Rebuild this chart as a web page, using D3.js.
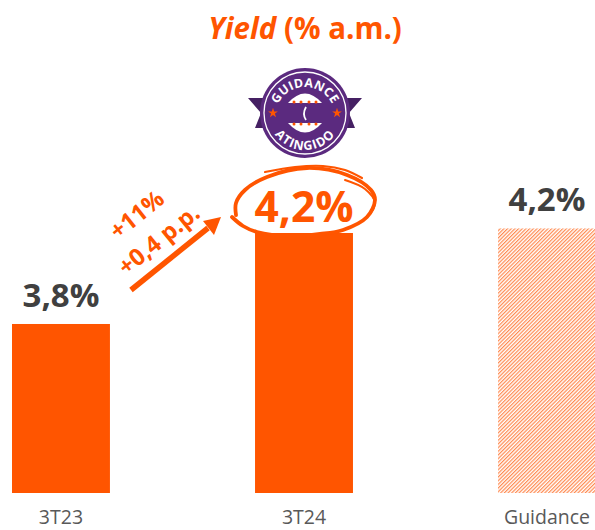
<!DOCTYPE html>
<html>
<head>
<meta charset="utf-8">
<script src="https://cdn.jsdelivr.net/npm/d3@7"></script>
<style>
  html, body { margin: 0; padding: 0; background: #fff; }
  text { font-family: "Open Sans", sans-serif; }
</style>
</head>
<body>
<div id="chart"></div>
<script>
// 数据
const categories = ["3T23", "3T24", "Guidance"];
const barValues = [3.8, 4.2, 4.22];
const valueLabels = ["3,8%", "4,2%", "4,2%"];
const growthLabels = ["+11%", "+0,4 p.p."];

const orange = "#ff5500";
const purple = "#5b2a7f";
const darkPurple = "#452063";

const width = 595, height = 530;
const baseline = 493;

const svg = d3.select("#chart").append("svg")
    .attr("width", width)
    .attr("height", height)
    .style("display", "block");

const defs = svg.append("defs");

// 斜线填充
const hatch = defs.append("pattern")
    .attr("id", "hatch")
    .attr("patternUnits", "userSpaceOnUse")
    .attr("width", 2.6)
    .attr("height", 2.6)
    .attr("patternTransform", "rotate(45)");
hatch.append("rect").attr("width", 2.6).attr("height", 2.6).attr("fill", "#fff");
hatch.append("rect").attr("width", 1.2).attr("height", 2.6).attr("fill", "#ff8a50");

const x = d3.scaleBand()
    .domain(categories)
    .range([12, 596])
    .paddingInner(0.597)
    .paddingOuter(0);

// 纵轴被截断，原图没有画轴
const y = d3.scaleLinear()
    .domain([3.057, 4.2])
    .range([baseline, 233]);

// 标题
const title = svg.append("text")
    .attr("x", 305)
    .attr("y", 39)
    .attr("text-anchor", "middle")
    .attr("font-size", 29.5)
    .attr("font-weight", 700)
    .attr("fill", orange);
title.append("tspan").attr("font-style", "italic").text("Yield");
title.append("tspan").text(" (% a.m.)");

// 柱子
svg.selectAll(".bar")
    .data(categories)
    .enter()
    .append("rect")
    .attr("class", "bar")
    .attr("x", d => x(d))
    .attr("y", (d, i) => y(barValues[i]))
    .attr("width", x.bandwidth())
    .attr("height", (d, i) => baseline - y(barValues[i]))
    .attr("fill", (d, i) => i === 2 ? "url(#hatch)" : orange);

// 数值标签
svg.selectAll(".value")
    .data(categories)
    .enter()
    .append("text")
    .attr("class", "value")
    .attr("x", d => x(d) + x.bandwidth() / 2)
    .attr("y", (d, i) => i === 1 ? 222 : y(barValues[i]) - 17)
    .attr("text-anchor", "middle")
    .attr("font-size", (d, i) => i === 1 ? 42.5 : 33)
    .attr("font-weight", 700)
    .attr("fill", (d, i) => i === 1 ? orange : "#404040")
    .text((d, i) => valueLabels[i]);

// 类别标签
svg.selectAll(".tick-label")
    .data(categories)
    .enter()
    .append("text")
    .attr("class", "tick-label")
    .attr("x", d => x(d) + x.bandwidth() / 2)
    .attr("y", 524)
    .attr("text-anchor", "middle")
    .attr("font-size", 19.5)
    .attr("fill", "#595959")
    .text(d => d);

// 手绘圈
const handCircle = svg.append("g").attr("fill", "none").attr("stroke", orange).attr("stroke-linecap", "round");
const scribble = d3.line().curve(d3.curveCatmullRom.alpha(0.5));
handCircle.append("path")
    .attr("stroke-width", 3.8)
    .attr("d", scribble([[232, 217], [243, 226], [257, 232], [290, 236], [320, 234], [343, 230], [367, 217], [375, 200], [371, 190], [347, 175], [307, 168], [267, 177], [245, 190], [236, 203], [236, 215]]));
handCircle.append("path")
    .attr("stroke-width", 2.2)
    .attr("d", scribble([[265, 172], [295, 167], [323, 166], [345, 170], [362, 178]]));
handCircle.append("path")
    .attr("stroke-width", 2)
    .attr("d", scribble([[345, 180], [365, 189], [375, 203], [370, 214]]));

// 增长箭头
const arrow = svg.append("g");
arrow.append("line")
    .attr("x1", 131).attr("y1", 290)
    .attr("x2", 208).attr("y2", 228)
    .attr("stroke", orange)
    .attr("stroke-width", 5.5);
arrow.append("path")
    .attr("d", "M221,217 L203,221 L214,235 Z")
    .attr("fill", orange);

svg.selectAll(".growth")
    .data(growthLabels)
    .enter()
    .append("text")
    .attr("class", "growth")
    .attr("transform", (d, i) => i === 0 ? "translate(142,221) rotate(-39)" : "translate(164,246) rotate(-39)")
    .attr("text-anchor", "middle")
    .attr("font-size", 23.5)
    .attr("font-weight", 700)
    .attr("fill", orange)
    .text(d => d);

// 徽章
const badge = svg.append("g").attr("transform", "translate(305,113)");

badge.append("path")
    .attr("d", "M-57,-15 L-30,-15 L-30,15 L-50,15 L-44,0 Z")
    .attr("fill", darkPurple);
badge.append("path")
    .attr("d", "M57,-15 L30,-15 L30,15 L50,15 L44,0 Z")
    .attr("fill", darkPurple);

badge.append("circle").attr("r", 45).attr("fill", purple);
badge.append("circle").attr("r", 41).attr("fill", "none").attr("stroke", "#fff").attr("stroke-width", 1.3);

// 中间的白色弧形
badge.append("path")
    .attr("d", "M-17,-10 Q0,-29 17,-10 Z")
    .attr("fill", "#fff");
badge.append("path")
    .attr("d", "M-17,10 Q0,29 17,10 Z")
    .attr("fill", "#fff");
badge.selectAll(".dot")
    .data(d3.cross([-11, -4, 4, 11], [-11, 11]))
    .enter()
    .append("circle")
    .attr("class", "dot")
    .attr("cx", d => d[0])
    .attr("cy", d => d[1])
    .attr("r", 1.5)
    .attr("fill", orange);
badge.append("path")
    .attr("d", "M1,-6 Q-3,1 1,7")
    .attr("fill", "none")
    .attr("stroke", "#fff")
    .attr("stroke-width", 1.8);

const star = d3.symbol().type(d3.symbolStar).size(30);
badge.selectAll(".star")
    .data([-32, 32])
    .enter()
    .append("path")
    .attr("class", "star")
    .attr("transform", d => `translate(${d},0)`)
    .attr("d", star)
    .attr("fill", orange);

defs.append("path").attr("id", "arcTop").attr("d", "M-30,4 A30,30 0 0 1 30,4");
defs.append("path").attr("id", "arcBottom").attr("d", "M-37,0 A37,37 0 0 0 37,0");

badge.append("text")
    .attr("font-size", 12.5)
    .attr("font-weight", 700)
    .attr("letter-spacing", 0.3)
    .attr("fill", "#fff")
    .attr("text-anchor", "middle")
    .append("textPath")
    .attr("href", "#arcTop")
    .attr("startOffset", "50%")
    .text("GUIDANCE");
badge.append("text")
    .attr("font-size", 12.5)
    .attr("font-weight", 700)
    .attr("letter-spacing", 1)
    .attr("fill", "#fff")
    .attr("text-anchor", "middle")
    .append("textPath")
    .attr("href", "#arcBottom")
    .attr("startOffset", "50%")
    .text("ATINGIDO");
</script>
</body>
</html>
